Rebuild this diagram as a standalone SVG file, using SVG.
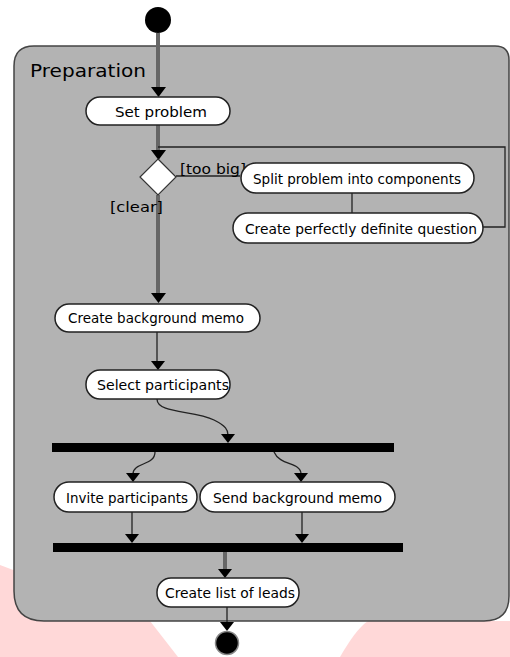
<svg xmlns="http://www.w3.org/2000/svg" width="510" height="657" viewBox="0 0 510 657">
<defs>
<style>
.node{fill:#fff;stroke:#222;stroke-width:1.5}
.t{font-family:"DejaVu Sans",sans-serif;font-size:14px;fill:#000;text-anchor:start}
.thick{fill:none;stroke:#666;stroke-width:4}
.thin{fill:none;stroke:#222;stroke-width:1.3}
.bar{fill:#000}
</style>
</defs>
<rect width="510" height="657" fill="#fff"/>
<g id="watermark">
<path d="M0,565 C60,588 120,600 150,621 L178,657 L0,657 z" fill="#ffd8d8"/>
<path d="M340,657 C350,640 358,628 368,621 L510,621 L510,657 z" fill="#ffd8d8"/>
</g>
<g id="preparation">
<path d="M34,46 L495,46 Q509,46 509,60 L509,596 Q509,621 484,621 L44,621 Q14,621 14,591 L14,66 Q14,46 34,46 z" fill="#b3b3b3" stroke="#444" stroke-width="1.5"/>
<text x="30" y="77" style="font-family:'DejaVu Sans',sans-serif;font-size:18px" textLength="116" lengthAdjust="spacingAndGlyphs">Preparation</text>
</g>
<g id="connectors">
<path class="thick" d="M158,33 V88"/>
<path d="M151,87 L166,87 L158.5,97 z" fill="#000"/>
<path class="thick" d="M158,125 V150"/>
<path d="M151,150 L166,150 L158.5,160 z" fill="#000"/>
<path class="thin" d="M158,147 H505 V227 H483"/>
<path class="thin" d="M176,176 H240" stroke-width="2"/>
<path class="thin" d="M352,193 V213"/>
<path class="thick" d="M158,195 V294"/>
<path d="M151,293 L166,293 L158.5,303 z" fill="#000"/>
<path class="thin" d="M157,332 V362" stroke-width="2"/>
<path d="M151,361 L165,361 L158,370 z" fill="#000"/>
<path class="thin" d="M157,399 C157,414 195,410 214,420 C226,426 228,430 228,435"/>
<path d="M221,434 L235,434 L228,443 z" fill="#000"/>
<path class="thin" d="M155,452 C155,466 133,462 133,474"/>
<path d="M126,473 L140,473 L133,482 z" fill="#000"/>
<path class="thin" d="M274,452 C280,466 301,462 301,474"/>
<path d="M294,473 L308,473 L301,482 z" fill="#000"/>
<path class="thin" d="M132,512 V535" stroke-width="1.8"/>
<path d="M125,534 L139,534 L132,543 z" fill="#000"/>
<path class="thin" d="M302,512 V535" stroke-width="1.8"/>
<path d="M295,534 L309,534 L302,543 z" fill="#000"/>
<path class="thick" d="M225,552 V570" stroke="#333"/>
<path d="M218,569 L232,569 L225,578 z" fill="#000"/>
<path class="thin" d="M227,607 V623"/>
<path d="M220,622 L234,622 L227,631 z" fill="#000"/>
</g>
<g id="start"><circle cx="158" cy="20" r="13" fill="#000"/></g>
<g id="set-problem">
<rect class="node" x="86" y="97" width="144" height="28" rx="14"/>
<text class="t" x="115" y="117" textLength="92" lengthAdjust="spacingAndGlyphs">Set problem</text>
</g>
<g id="decision">
<path d="M158,159 L176,177 L158,195 L140,177 z" fill="#fff" stroke="#333" stroke-width="1.2"/>
<text class="t" x="180" y="174" textLength="66" lengthAdjust="spacingAndGlyphs">[too big]</text>
<text class="t" x="110" y="212" textLength="53" lengthAdjust="spacingAndGlyphs">[clear]</text>
</g>
<g id="split">
<rect class="node" x="241" y="163" width="233" height="30" rx="15"/>
<text class="t" x="253" y="184" textLength="208" lengthAdjust="spacingAndGlyphs">Split problem into components</text>
</g>
<g id="definite">
<rect class="node" x="233" y="213" width="250" height="30" rx="15"/>
<text class="t" x="245" y="234" textLength="232" lengthAdjust="spacingAndGlyphs">Create perfectly definite question</text>
</g>
<g id="background-memo">
<rect class="node" x="55" y="304" width="205" height="28" rx="14"/>
<text class="t" x="68" y="323" textLength="176" lengthAdjust="spacingAndGlyphs">Create background memo</text>
</g>
<g id="select">
<rect class="node" x="86" y="370" width="144" height="29" rx="14"/>
<text class="t" x="97" y="390" textLength="132" lengthAdjust="spacingAndGlyphs">Select participants</text>
</g>
<g id="fork"><rect class="bar" x="52" y="443" width="342" height="9"/></g>
<g id="invite">
<rect class="node" x="54" y="482" width="143" height="30" rx="15"/>
<text class="t" x="66" y="503" textLength="122" lengthAdjust="spacingAndGlyphs">Invite participants</text>
</g>
<g id="send">
<rect class="node" x="200" y="482" width="195" height="30" rx="15"/>
<text class="t" x="213" y="503" textLength="169" lengthAdjust="spacingAndGlyphs">Send background memo</text>
</g>
<g id="join"><rect class="bar" x="53" y="543" width="350" height="9"/></g>
<g id="leads">
<rect class="node" x="157" y="578" width="142" height="29" rx="14"/>
<text class="t" x="165" y="598" textLength="130" lengthAdjust="spacingAndGlyphs">Create list of leads</text>
</g>
<g id="end">
<circle cx="227" cy="643" r="11.5" fill="#000" stroke="#888" stroke-width="1.5"/>
</g>
</svg>
